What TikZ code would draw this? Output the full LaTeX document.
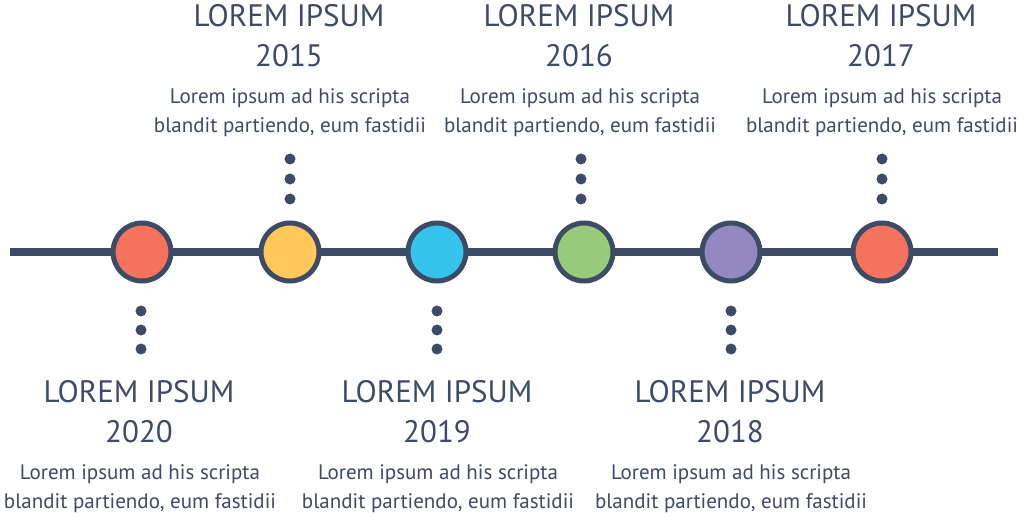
\documentclass[tikz,border=0pt]{standalone}
\usepackage{fontspec}
\setmainfont{PT Sans}
\definecolor{navy}{HTML}{3D4B66}
\definecolor{cred}{HTML}{F4735D}
\definecolor{cyel}{HTML}{FFC95C}
\definecolor{ccya}{HTML}{35C5EC}
\definecolor{cgrn}{HTML}{97CB79}
\definecolor{cpur}{HTML}{9488C0}
\tikzset{
  yearball/.style={circle, draw=navy, line width=5pt, minimum size=58pt, inner sep=0pt},
  dotmark/.style={circle, fill=navy, minimum size=11pt, inner sep=0pt},
  titletxt/.style={anchor=base, inner sep=0pt, text=navy, font=\fontsize{31}{31}\selectfont},
  bodytxt/.style={anchor=base, inner sep=0pt, text=navy, font=\fontsize{21}{21}\selectfont},
}
\begin{document}
\begin{tikzpicture}[x=1pt,y=-1pt]
\useasboundingbox (0,0) rectangle (1024,529);
\fill[white] (0,0) rectangle (1024,529);
\coordinate (lstart) at (10,252);
\coordinate (lend) at (998,252);
\draw[navy, line width=8pt] (lstart) -- (lend);
\node[yearball, fill=cred] (c1) at (142,252) {};
\node[yearball, fill=cyel] (c2) at (290,252) {};
\node[yearball, fill=ccya] (c3) at (437,252) {};
\node[yearball, fill=cgrn] (c4) at (584,252) {};
\node[yearball, fill=cpur] (c5) at (731,252) {};
\node[yearball, fill=cred] (c6) at (882,252) {};
% dots above
\foreach \n/\x in {2/290,4/581,6/882}{
  \node[dotmark] (d\n a) at (\x,159) {};
  \node[dotmark] (d\n b) at (\x,179) {};
  \node[dotmark] (d\n c) at (\x,199) {};
}
% dots below
\foreach \n/\x in {1/141,3/437,5/731}{
  \node[dotmark] (d\n a) at (\x,311) {};
  \node[dotmark] (d\n b) at (\x,330) {};
  \node[dotmark] (d\n c) at (\x,349) {};
}
% top texts
\foreach \n/\x/\yr in {2/289/2015,4/579/2016,6/881/2017}{
  \node[titletxt] (t\n) at (\x,27) {LOREM IPSUM};
  \node[titletxt] (y\n) at (\x,67) {\yr};
  \node[bodytxt] (ba\n) at (\x+1,104) {Lorem ipsum ad his scripta};
  \node[bodytxt] (bb\n) at (\x+1,133) {blandit partiendo, eum fastidii};
}
% bottom texts
\foreach \n/\x/\yr in {1/139/2020,3/437/2019,5/730/2018}{
  \node[titletxt] (t\n) at (\x,402) {LOREM IPSUM};
  \node[titletxt] (y\n) at (\x,442) {\yr};
  \node[bodytxt] (ba\n) at (\x+1,479) {Lorem ipsum ad his scripta};
  \node[bodytxt] (bb\n) at (\x+1,508) {blandit partiendo, eum fastidii};
}
\end{tikzpicture}
\end{document}
